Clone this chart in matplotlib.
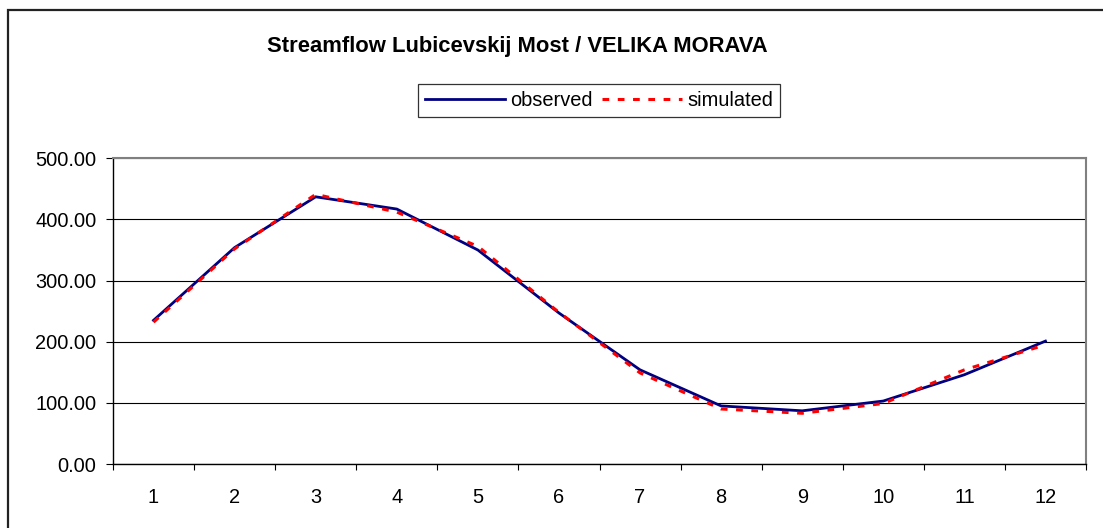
import matplotlib
matplotlib.use("Agg")
import matplotlib.pyplot as plt
from matplotlib.patches import Rectangle
from matplotlib.ticker import FixedLocator, NullFormatter

plt.rcParams["font.family"] = ["Liberation Sans", "DejaVu Sans"]

months = [1, 2, 3, 4, 5, 6, 7, 8, 9, 10, 11, 12]
observed = [235, 354, 437, 417, 350, 247, 154, 95, 87, 103, 146, 201]
simulated = [232, 352, 441, 412, 356, 248, 149, 90, 83, 99, 154, 195]
y_ticks = [0, 100, 200, 300, 400, 500]
title = "Streamflow Lubicevskij Most / VELIKA MORAVA"

W, H = 1103, 528
fig = plt.figure(figsize=(W / 100, H / 100), dpi=100)
ax = fig.add_axes([113 / W, 1 - 464 / H, (1086 - 113) / W, (464 - 158.3) / H])

# outer chart frame (runs off the right and bottom edges)
fig.patches.append(Rectangle((8 / W, -0.1), 1.2, (H - 10) / H + 0.1,
                             transform=fig.transFigure, fill=False,
                             edgecolor="#222222", linewidth=1.6))

ax.plot(months, observed, color="#000080", linewidth=2.0, label="observed",
        solid_joinstyle="miter")
ax.plot(months, simulated, color="#FF0000", linewidth=2.2, label="simulated",
        linestyle=(0, (2.2, 2.8)))

ax.set_xlim(0.5, 12.5)
ax.set_ylim(0, 500)
ax.set_yticks(y_ticks)
ax.set_yticklabels([f"{v:.2f}" for v in y_ticks])
ax.yaxis.grid(True, color="black", linewidth=0.8)
ax.set_axisbelow(True)

ax.xaxis.set_major_locator(FixedLocator([m - 0.5 for m in months] + [12.5]))
ax.xaxis.set_major_formatter(NullFormatter())
ax.xaxis.set_minor_locator(FixedLocator(months))
ax.set_xticklabels([str(m) for m in months], minor=True)
ax.tick_params(axis="x", which="major", direction="out", length=4, width=0.8)
ax.tick_params(axis="x", which="minor", length=0, pad=17, labelsize=14.4)
ax.tick_params(axis="y", direction="out", length=5, width=0.8, pad=7, labelsize=14.4)

for side in ["left", "bottom"]:
    ax.spines[side].set_color("#000000")
    ax.spines[side].set_linewidth(1.0)
for side in ["top", "right"]:
    ax.spines[side].set_color("#808080")
    ax.spines[side].set_linewidth(1.5)

fig.text(517 / W, 1 - 52 / H, title, ha="center", va="baseline",
         fontsize=15.8, fontweight="bold")

leg = fig.legend(loc="center", bbox_to_anchor=(599 / W, 1 - 100.5 / H), ncol=2,
                 fontsize=14.4, frameon=True, fancybox=False, shadow=False,
                 handlelength=4.0, handletextpad=0.25, columnspacing=0.5,
                 borderpad=0.35, borderaxespad=0)
leg.get_frame().set_edgecolor("black")
leg.get_frame().set_linewidth(0.9)

fig.savefig("out.png", dpi=100)
